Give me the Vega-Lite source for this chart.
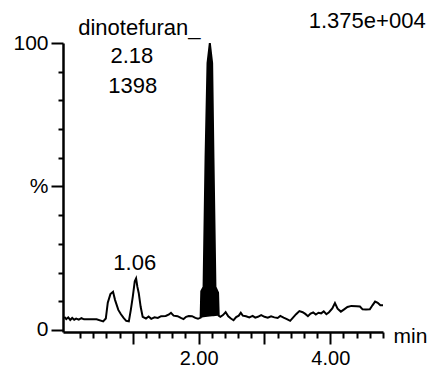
{
  "$schema": "https://vega.github.io/schema/vega-lite/v6.json",
  "width": 320,
  "height": 289,
  "autosize": "none",
  "padding": {"left": 63, "top": 43, "right": 51, "bottom": 36},
  "background": "white",
  "config": {"view": {"stroke": null}, "font": "Liberation Sans", "axis": {"labelOverlap": false, "labelFlush": false}},
  "datasets": {
    "trace": [
      {"t": -0.04, "v": 4.6}, {"t": -0.01, "v": 3.8}, {"t": 0.02, "v": 4.4}, {"t": 0.05, "v": 3.5},
      {"t": 0.08, "v": 4.2}, {"t": 0.11, "v": 3.6}, {"t": 0.14, "v": 4.0}, {"t": 0.18, "v": 3.6},
      {"t": 0.22, "v": 4.1}, {"t": 0.26, "v": 3.7}, {"t": 0.35, "v": 3.7}, {"t": 0.45, "v": 3.7},
      {"t": 0.55, "v": 3.0}, {"t": 0.59, "v": 4.0}, {"t": 0.62, "v": 9.5}, {"t": 0.66, "v": 12.5},
      {"t": 0.70, "v": 13.3}, {"t": 0.73, "v": 10.5}, {"t": 0.78, "v": 7.0}, {"t": 0.82, "v": 5.5},
      {"t": 0.86, "v": 4.2}, {"t": 0.90, "v": 3.2}, {"t": 0.94, "v": 3.0}, {"t": 0.97, "v": 7.0},
      {"t": 1.00, "v": 11.6}, {"t": 1.03, "v": 17.0}, {"t": 1.05, "v": 18.0}, {"t": 1.07, "v": 15.0},
      {"t": 1.09, "v": 12.9}, {"t": 1.12, "v": 8.0}, {"t": 1.15, "v": 4.6}, {"t": 1.20, "v": 4.0},
      {"t": 1.24, "v": 4.7}, {"t": 1.28, "v": 3.9}, {"t": 1.33, "v": 4.4}, {"t": 1.38, "v": 4.2},
      {"t": 1.43, "v": 4.8}, {"t": 1.50, "v": 4.9}, {"t": 1.55, "v": 5.4}, {"t": 1.58, "v": 6.0},
      {"t": 1.62, "v": 5.0}, {"t": 1.68, "v": 4.8}, {"t": 1.73, "v": 4.2}, {"t": 1.77, "v": 3.8},
      {"t": 1.81, "v": 4.6}, {"t": 1.85, "v": 4.9}, {"t": 1.90, "v": 4.8}, {"t": 1.95, "v": 4.2},
      {"t": 1.99, "v": 3.9},
      {"t": 2.030, "v": 4.3, "b": 4.3}, {"t": 2.040, "v": 13.5, "b": 4.3}, {"t": 2.075, "v": 15.0, "b": 4.4},
      {"t": 2.105, "v": 60.0, "b": 4.5}, {"t": 2.135, "v": 93.0, "b": 4.6}, {"t": 2.170, "v": 100.0, "b": 4.7},
      {"t": 2.205, "v": 93.0, "b": 4.8}, {"t": 2.225, "v": 60.0, "b": 4.8}, {"t": 2.255, "v": 15.0, "b": 4.9},
      {"t": 2.295, "v": 13.0, "b": 5.0}, {"t": 2.305, "v": 5.0, "b": 5.0},
      {"t": 2.33, "v": 4.6}, {"t": 2.37, "v": 5.2}, {"t": 2.41, "v": 6.2}, {"t": 2.45, "v": 4.8},
      {"t": 2.49, "v": 4.0}, {"t": 2.53, "v": 3.4}, {"t": 2.57, "v": 4.5}, {"t": 2.61, "v": 5.0},
      {"t": 2.64, "v": 6.0}, {"t": 2.67, "v": 5.0}, {"t": 2.72, "v": 4.8}, {"t": 2.77, "v": 4.4},
      {"t": 2.82, "v": 4.9}, {"t": 2.86, "v": 4.3}, {"t": 2.90, "v": 4.6}, {"t": 2.95, "v": 5.2},
      {"t": 3.00, "v": 4.6}, {"t": 3.05, "v": 4.3}, {"t": 3.10, "v": 4.8}, {"t": 3.15, "v": 4.4},
      {"t": 3.20, "v": 4.2}, {"t": 3.24, "v": 4.9}, {"t": 3.29, "v": 4.3}, {"t": 3.34, "v": 3.8},
      {"t": 3.39, "v": 3.2}, {"t": 3.43, "v": 4.2}, {"t": 3.48, "v": 5.5}, {"t": 3.53, "v": 6.6},
      {"t": 3.58, "v": 6.2}, {"t": 3.62, "v": 5.6}, {"t": 3.66, "v": 4.8}, {"t": 3.70, "v": 5.7},
      {"t": 3.74, "v": 6.1}, {"t": 3.78, "v": 5.4}, {"t": 3.82, "v": 6.0}, {"t": 3.86, "v": 5.8},
      {"t": 3.90, "v": 6.5}, {"t": 3.94, "v": 5.5}, {"t": 3.98, "v": 6.2}, {"t": 4.03, "v": 7.5},
      {"t": 4.07, "v": 9.4}, {"t": 4.11, "v": 7.4}, {"t": 4.16, "v": 6.4}, {"t": 4.21, "v": 7.2},
      {"t": 4.26, "v": 8.0}, {"t": 4.32, "v": 8.4}, {"t": 4.40, "v": 8.3}, {"t": 4.45, "v": 8.2},
      {"t": 4.49, "v": 7.2}, {"t": 4.54, "v": 7.1}, {"t": 4.60, "v": 7.2}, {"t": 4.64, "v": 8.6},
      {"t": 4.68, "v": 9.9}, {"t": 4.72, "v": 9.5}, {"t": 4.76, "v": 8.6}, {"t": 4.80, "v": 8.6}
    ],
    "labels": [
      {"t": 1.10, "v": 102.8, "label": "dinotefuran_"},
      {"t": 0.985, "v": 93.0, "label": "2.18"},
      {"t": 1.0, "v": 82.6, "label": "1398"},
      {"t": 1.03, "v": 20.9, "label": "1.06"},
      {"t": 4.56, "v": 105.2, "label": "1.375e+004"}
    ]
  },
  "layer": [
    {
      "data": {"name": "trace"},
      "transform": [{"filter": "isValid(datum.b)"}],
      "mark": {"type": "area", "color": "black", "opacity": 1},
      "encoding": {
        "x": {
          "field": "t", "type": "quantitative",
          "scale": {"domain": [-0.06, 4.8], "nice": false, "zero": false},
          "axis": {
            "values": [0.2, 0.4, 0.6, 0.8, 1, 1.2, 1.4, 1.6, 1.8, 2, 2.2, 2.4, 2.6, 2.8, 3, 3.2, 3.4, 3.6, 3.8, 4, 4.2, 4.4, 4.6, 4.8],
            "tickCount": 100,
            "labelExpr": "datum.value == 2 ? '2.00' : (datum.value == 4 ? '4.00' : '')",
            "tickSize": {"condition": {"test": "datum.value % 1 === 0", "value": 12}, "value": 6},
            "tickWidth": 2, "tickColor": "black",
            "domainColor": "black", "domainWidth": 2.5,
            "grid": false, "labelFlush": false, "labelOverlap": false,
            "labelFontSize": 20, "labelColor": "black", "labelPadding": 4,
            "title": "min", "titleAngle": 0, "titleAlign": "left", "titleBaseline": "alphabetic",
            "titleX": 330, "titleY": 10, "titleFontSize": 21, "titleFontWeight": "normal", "titleColor": "black"
          }
        },
        "y": {
          "field": "v", "type": "quantitative",
          "scale": {"domain": [-0.7, 100], "nice": false, "zero": false},
          "axis": {
            "values": [0, 10, 20, 30, 40, 50, 60, 70, 80, 90, 100],
            "tickCount": 100,
            "labelExpr": "datum.value == 50 ? '%' : (datum.value == 0 ? '0' : (datum.value == 100 ? '100' : ''))",
            "tickSize": {"condition": {"test": "datum.value % 50 === 0", "value": 12}, "value": 5},
            "tickWidth": 2, "tickColor": "black",
            "domainColor": "black", "domainWidth": 2.5,
            "grid": false, "labelOverlap": false, "labelFlush": false,
            "labelFontSize": 21, "labelColor": "black", "labelPadding": 3,
            "title": null
          }
        },
        "y2": {"field": "b"}
      }
    },
    {
      "data": {"name": "trace"},
      "mark": {"type": "line", "color": "black", "strokeWidth": 2},
      "encoding": {
        "x": {"field": "t", "type": "quantitative"},
        "y": {"field": "v", "type": "quantitative"}
      }
    },
    {
      "data": {"name": "labels"},
      "mark": {"type": "text", "fontSize": 22, "baseline": "alphabetic", "align": "center", "color": "black"},
      "encoding": {
        "x": {"field": "t", "type": "quantitative"},
        "y": {"field": "v", "type": "quantitative"},
        "text": {"field": "label"}
      }
    }
  ]
}
